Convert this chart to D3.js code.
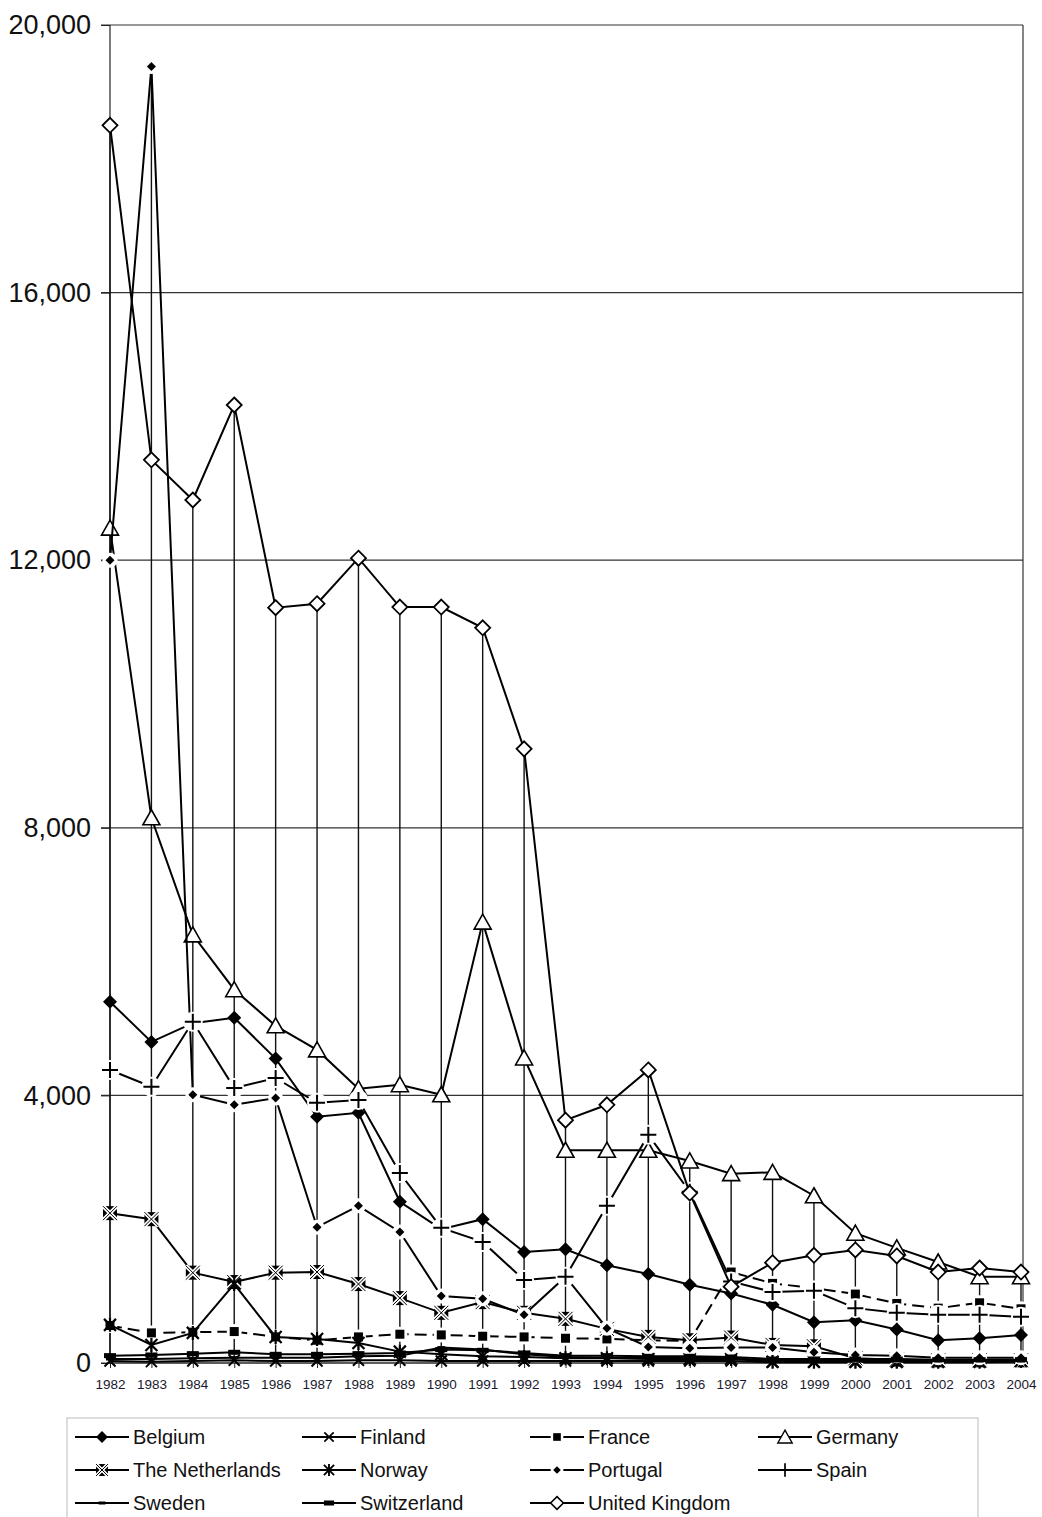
<html>
<style>
body { margin: 0; background: #fff; }
svg { font-family: "Liberation Sans", Arial, sans-serif; }
.axis path { display: none; }
.axis line { stroke: #222; }
.grid line { stroke: #333; stroke-width: 1.2; }
</style>
<body>
<svg width="1042" height="1517"></svg>
<script src="https://cdnjs.cloudflare.com/ajax/libs/d3/7.8.5/d3.min.js"></script>
<script>

var years = ["1982","1983","1984","1985","1986","1987","1988","1989","1990","1991","1992","1993",
             "1994","1995","1996","1997","1998","1999","2000","2001","2002","2003","2004"];
var yTicks = [0, 4000, 8000, 12000, 16000, 20000];

var belgium     = [5400,4800,5080,5160,4550,3680,3740,2410,2000,2150,1660,1700,1460,1330,1170,1040,870,610,640,500,340,370,420];
var finland     = [30,20,30,40,30,30,40,40,30,30,30,30,30,30,30,30,10,10,10,10,10,10,20];
var france      = [560,450,460,470,390,340,390,430,420,400,390,370,360,340,330,1360,1190,1120,1030,890,820,900,810];
var germany     = [12480,8150,6400,5580,5040,4680,4100,4160,4010,6590,4560,3180,3180,3180,3020,2830,2850,2500,1940,1720,1510,1290,1290];
var netherlands = [2240,2150,1350,1210,1350,1360,1180,970,750,910,750,660,510,390,340,380,270,250,70,50,40,40,40];
var norway      = [570,270,450,1180,390,360,300,170,130,100,90,70,70,60,60,60,20,20,20,20,20,20,30];
var portugal    = [12000,19380,4010,3860,3960,2030,2350,1960,1000,960,720,1290,520,240,220,230,230,160,120,110,80,80,80];
var spain       = [4380,4130,5100,4110,4260,3890,3930,2840,2020,1810,1240,1290,2350,3410,2560,1220,1060,1080,820,750,720,720,690];
var sweden      = [60,60,70,80,80,80,100,110,230,200,130,90,80,80,80,70,40,40,40,30,30,30,30];
var switzerland = [110,120,140,160,130,130,140,150,200,190,150,110,110,100,100,90,60,60,60,60,50,50,50];
var uk          = [18500,13500,12900,14320,11290,11350,12030,11300,11300,10990,9180,3630,3860,4380,2540,1140,1500,1610,1690,1600,1360,1420,1360];

var series = [
  {name: "Belgium", values: belgium, marker: "diamondFill", dash: null},
  {name: "Finland", values: finland, marker: "cross", dash: null},
  {name: "France", values: france, marker: "square", dash: "12,6", halo: true},
  {name: "Germany", values: germany, marker: "triangle", dash: null},
  {name: "The Netherlands", values: netherlands, marker: "boxX", dash: null},
  {name: "Norway", values: norway, marker: "asterisk", dash: null},
  {name: "Portugal", values: portugal, marker: "smallDiamond", dash: null, halo: true},
  {name: "Spain", values: spain, marker: "plus", dash: null, halo: true},
  {name: "Sweden", values: sweden, marker: "bar", dash: null},
  {name: "Switzerland", values: switzerland, marker: "thickBar", dash: null},
  {name: "United Kingdom", values: uk, marker: "diamondOpen", dash: null}
];

var svg = d3.select("svg"),
    margin = {top: 25, right: 20, bottom: 154, left: 110},
    width = +svg.attr("width") - margin.left - margin.right,
    height = +svg.attr("height") - margin.top - margin.bottom;

var x = d3.scalePoint().domain(years).range([margin.left, margin.left + width - 1]);
var y = d3.scaleLinear().domain([0, 20000]).range([margin.top + height, margin.top]);

// gridlines + right border
svg.append("g").attr("class", "grid")
  .selectAll("line").data(yTicks).enter().append("line")
    .attr("x1", margin.left - 9).attr("x2", margin.left + width + 1)
    .attr("y1", d => y(d)).attr("y2", d => y(d));

svg.append("line")
  .attr("x1", margin.left + width + 1).attr("x2", margin.left + width + 1)
  .attr("y1", y(20000)).attr("y2", y(0))
  .attr("stroke", "#333").attr("stroke-width", 1.2);

// y axis
var yAxis = svg.append("g").attr("class", "axis")
  .attr("transform", "translate(" + margin.left + ",0)")
  .call(d3.axisLeft(y).tickValues(yTicks).tickSize(9).tickPadding(10).tickFormat(d3.format(",")));
yAxis.selectAll("text").attr("font-size", 27).attr("fill", "#111");
svg.append("line")
  .attr("x1", margin.left).attr("x2", margin.left)
  .attr("y1", y(20000)).attr("y2", y(0))
  .attr("stroke", "#222").attr("stroke-width", 1.2);

// x axis
var xAxis = svg.append("g").attr("class", "axis")
  .attr("transform", "translate(0," + y(0) + ")")
  .call(d3.axisBottom(x).tickSize(5).tickPadding(11));
xAxis.selectAll("text").attr("font-size", 13.5).attr("fill", "#1a1a2e");
svg.append("line")
  .attr("x1", margin.left).attr("x2", margin.left + width + 1)
  .attr("y1", y(0)).attr("y2", y(0))
  .attr("stroke", "#222").attr("stroke-width", 1.2);

// high-low lines
svg.append("g").selectAll("line").data(years).enter().append("line")
  .attr("x1", d => x(d)).attr("x2", d => x(d))
  .attr("y1", (d, i) => y(d3.max(series, s => s.values[i])))
  .attr("y2", (d, i) => y(d3.min(series, s => s.values[i])))
  .attr("stroke", "#111").attr("stroke-width", 1.4);

function drawMarker(g, type, k, halo) {
  k = k || 1;
  if (halo) {
    g.append("circle").attr("r", (type == "plus" ? 10 : 7.5) * k).attr("fill", "#fff");
  }
  if (type == "diamondFill") {
    g.append("path").attr("d", "M0,-7L7,0L0,7L-7,0Z").attr("transform", "scale(" + k + ")").attr("fill", "#000");
  } else if (type == "diamondOpen") {
    g.append("path").attr("d", "M0,-7.5L7.5,0L0,7.5L-7.5,0Z").attr("transform", "scale(" + k + ")")
      .attr("fill", "#fff").attr("stroke", "#000").attr("stroke-width", 1.8);
  } else if (type == "cross") {
    g.append("path").attr("d", "M-5.5,-5.5L5.5,5.5M5.5,-5.5L-5.5,5.5").attr("transform", "scale(" + k + ")")
      .attr("stroke", "#000").attr("stroke-width", 2).attr("fill", "none");
  } else if (type == "square") {
    g.append("rect").attr("x", -4.5 * k).attr("y", -4.5 * k).attr("width", 9 * k).attr("height", 9 * k).attr("fill", "#000");
  } else if (type == "triangle") {
    g.append("path").attr("d", "M0,-8L8.5,7L-8.5,7Z").attr("transform", "scale(" + k + ")")
      .attr("fill", "#fff").attr("stroke", "#000").attr("stroke-width", 1.6);
  } else if (type == "boxX") {
    var s = 7 * k;
    g.append("rect").attr("x", -s).attr("y", -s).attr("width", 2 * s).attr("height", 2 * s).attr("fill", "#000");
    g.append("path").attr("d", "M" + (-s) + "," + (-s) + "L" + s + "," + s + "M" + s + "," + (-s) + "L" + (-s) + "," + s)
      .attr("stroke", "#fff").attr("stroke-width", 4 * k);
    g.append("path").attr("d", "M" + (-s) + "," + (-s) + "L" + s + "," + s + "M" + s + "," + (-s) + "L" + (-s) + "," + s)
      .attr("stroke", "#000").attr("stroke-width", 1);
  } else if (type == "asterisk") {
    g.append("path").attr("d", "M-6,-6L6,6M6,-6L-6,6M0,-7L0,7").attr("transform", "scale(" + k + ")")
      .attr("stroke", "#000").attr("stroke-width", 2.2).attr("fill", "none");
  } else if (type == "smallDiamond") {
    g.append("path").attr("d", "M0,-4.5L4.5,0L0,4.5L-4.5,0Z").attr("transform", "scale(" + k + ")").attr("fill", "#000");
  } else if (type == "plus") {
    g.append("path").attr("d", "M-8,0L8,0M0,-8L0,8").attr("transform", "scale(" + k + ")")
      .attr("stroke", "#000").attr("stroke-width", 2).attr("fill", "none");
  } else if (type == "bar") {
    g.append("rect").attr("x", -4 * k).attr("y", -1.5).attr("width", 8 * k).attr("height", 3).attr("fill", "#000");
  } else if (type == "thickBar") {
    g.append("rect").attr("x", -6 * k).attr("y", -2.5).attr("width", 12 * k).attr("height", 5).attr("fill", "#000");
  }
}

var line = d3.line().x((d, i) => x(years[i])).y(d => y(d));

series.forEach(function(s) {
  svg.append("path")
    .datum(s.values)
    .attr("d", line)
    .attr("fill", "none")
    .attr("stroke", "#000")
    .attr("stroke-width", 2)
    .attr("stroke-dasharray", s.dash);
  s.values.forEach(function(v, i) {
    var g = svg.append("g").attr("transform", "translate(" + x(years[i]) + "," + y(v) + ")");
    drawMarker(g, s.marker, 1, s.halo);
  });
});

// legend
var legend = svg.append("g");
legend.append("rect")
  .attr("x", 67).attr("y", 1418).attr("width", 911).attr("height", 120)
  .attr("fill", "#fff").attr("stroke", "#bbb").attr("stroke-width", 1);

var colX = [75, 302, 530, 758];
var rowY = [1437, 1470, 1503];
series.forEach(function(s, i) {
  var cx = colX[i % 4], cy = rowY[Math.floor(i / 4)];
  var g = legend.append("g").attr("transform", "translate(" + cx + "," + cy + ")");
  g.append("line").attr("x1", 0).attr("x2", 54).attr("y1", 0).attr("y2", 0)
    .attr("stroke", "#000").attr("stroke-width", 2);
  var m = g.append("g").attr("transform", "translate(27,0)");
  drawMarker(m, s.marker, 0.85, s.marker == "smallDiamond" || s.marker == "square");
  g.append("text").attr("x", 58).attr("y", 7).attr("font-size", 20).attr("fill", "#111").text(s.name);
});

</script>
</body>
</html>
